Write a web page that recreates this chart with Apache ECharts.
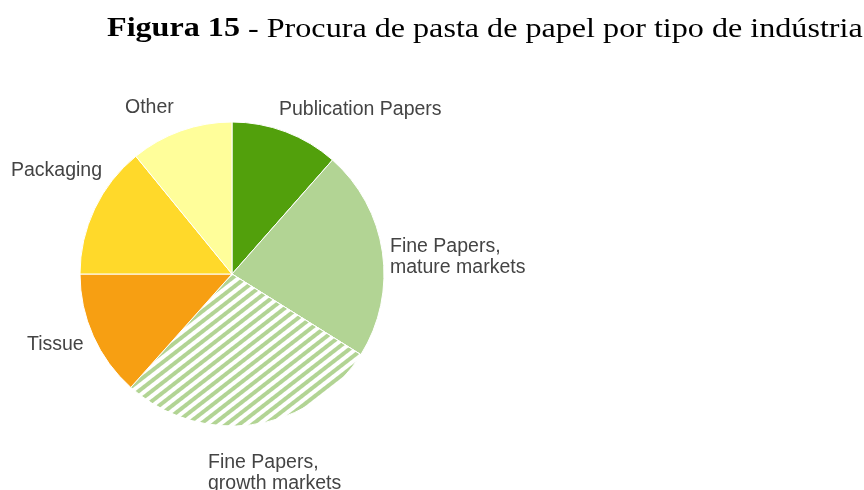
<!DOCTYPE html>
<html>
<head>
<meta charset="utf-8">
<script src="https://cdn.jsdelivr.net/npm/echarts@6/dist/echarts.min.js"></script>
<style>html,body{margin:0;padding:0;background:#fff}#c{width:864px;height:490px}</style>
</head>
<body>
<div id="c"></div>
<script>
const categories = ['Publication Papers', 'Fine Papers,\nmature markets', 'Fine Papers,\ngrowth markets', 'Tissue', 'Packaging', 'Other'];
const values = [11.5, 22.4, 27.7, 13.4, 14.1, 10.9];
const colors = ['#52A00C', '#B2D494', '#FFFFFF', '#F79F12', '#FFD92A', '#FFFE9A'];
const titleText = '{b|Figura 15} - Procura de pasta de papel por tipo de indústria';

const labelPos = [
  {x: 279, y: 110},
  {x: 390, y: 257},
  {x: 208, y: 473},
  {x: 27, y: 345},
  {x: 11, y: 171},
  {x: 125, y: 108}
];

const chart = echarts.init(document.getElementById('c'));
chart.setOption({
  animation: false,
  series: [{
    type: 'pie',
    center: [232, 274],
    radius: 152,
    startAngle: 90,
    clockwise: true,
    itemStyle: { borderColor: '#fff', borderWidth: 1 },
    label: {
      show: true, position: 'outside', fontFamily: 'Liberation Sans', fontSize: 19.5,
      color: '#444', lineHeight: 21, overflow: 'none'
    },
    labelLine: { show: false },
    labelLayout: function (p) {
      const pos = labelPos[p.dataIndex];
      return { x: pos.x, y: pos.y, align: 'left', verticalAlign: 'middle' };
    },
    data: categories.map((c, i) => {
      const d = { name: c, value: values[i], itemStyle: { color: colors[i] } };
      if (i === 2) {
        d.itemStyle.decal = {
          symbol: 'rect', symbolSize: 1, color: '#B2D494',
          dashArrayX: [1, 0], dashArrayY: [4, 4], rotation: -0.66
        };
      }
      return d;
    })
  }],
  graphic: [{
    type: 'rect', left: 526, top: 60, shape: { width: 338, height: 430 },
    style: { fill: '#fff' }, z: 100
  }, {
    type: 'text', x: 107, y: 16, scaleX: 1.19, z: 101,
    style: {
      text: titleText, fill: '#000',
      fontFamily: 'Liberation Serif', fontSize: 27, verticalAlign: 'top',
      rich: { b: { fontFamily: 'Liberation Serif', fontSize: 27, fontWeight: 'bold', fill: '#000' } }
    }
  }]
});
</script>
</body>
</html>
